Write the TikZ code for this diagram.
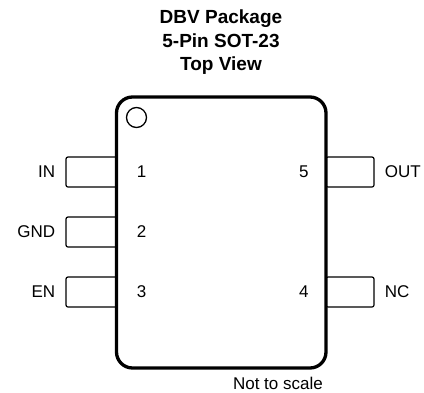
\documentclass[tikz,border=0pt]{standalone}
\usepackage{fontspec}
\setmainfont{Liberation Sans}
\usetikzlibrary{positioning}

\begin{document}
\begin{tikzpicture}[x=1pt,y=-1pt,
    lead/.style={draw,line width=1.2pt,rounded corners=2pt,minimum height=30pt,inner sep=0pt},
    pinname/.style={font=\fontsize{17}{20}\selectfont,inner sep=0pt},
    pinnum/.style={font=\fontsize{17}{20}\selectfont,inner sep=0pt}]
  \useasboundingbox (0,0) rectangle (424,392);
  % title
  \node[font=\bfseries\fontsize{19}{23.5}\selectfont,align=center,anchor=north,inner sep=0pt]
    (title) at (221,9.7) {DBV Package\\5-Pin SOT-23\\Top View};
  % leads
  \node[lead,minimum width=51pt] (p1) at (91.5,172) {};
  \node[lead,minimum width=51pt] (p2) at (91.5,232) {};
  \node[lead,minimum width=51pt] (p3) at (91.5,292) {};
  \node[lead,minimum width=48pt] (p5) at (350,172) {};
  \node[lead,minimum width=48pt] (p4) at (350,292) {};
  % body
  \node[draw,fill=white,line width=3.3pt,rounded corners=16pt,minimum width=209.5pt,
    minimum height=271pt,inner sep=0pt] (body) at (221.25,232.5) {};
  \node[draw,circle,line width=1.3pt,minimum size=20pt,inner sep=0pt] (dot) at (136.5,117.5) {};
  % pin names
  \node[pinname,left=10pt of p1] (in) {IN};
  \node[pinname,left=10pt of p2] (gnd) {GND};
  \node[pinname,left=10pt of p3] (en) {EN};
  \node[pinname,right=10pt of p5] (out) {OUT};
  \node[pinname,right=10pt of p4] (nc) {NC};
  % pin numbers
  \node[pinnum,right=19pt of p1.east] (n1) {1};
  \node[pinnum,right=19pt of p2.east] (n2) {2};
  \node[pinnum,right=19pt of p3.east] (n3) {3};
  \node[pinnum,left=16.5pt of p5.west] (n5) {5};
  \node[pinnum,left=16.5pt of p4.west] (n4) {4};
  % note
  \node[pinname,anchor=east] (note) at (323,383.5) {Not to scale};
\end{tikzpicture}
\end{document}
